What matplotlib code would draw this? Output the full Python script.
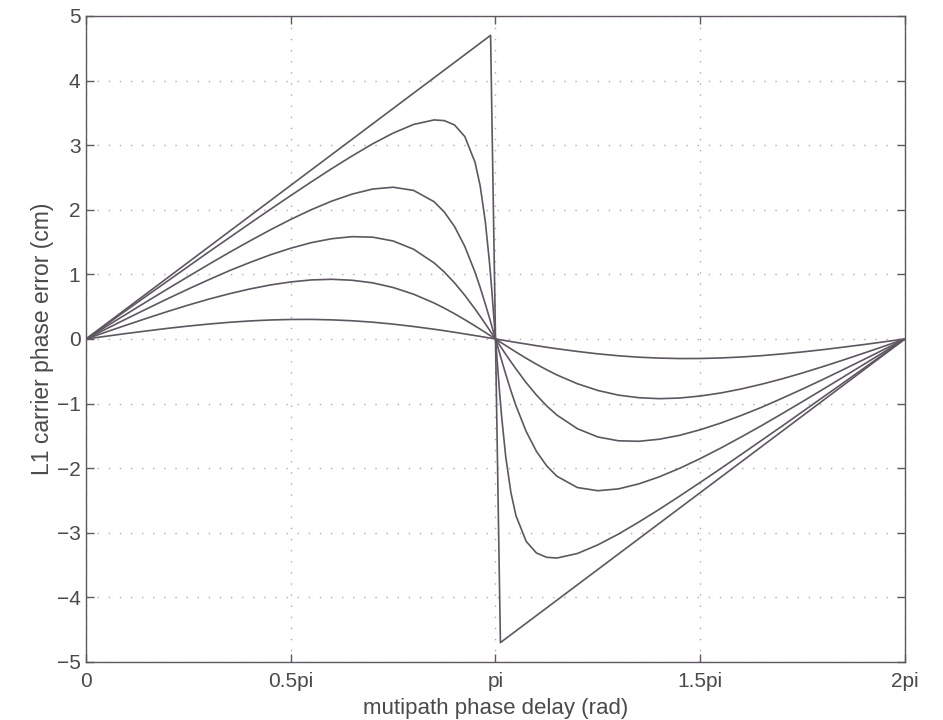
import matplotlib
matplotlib.use("Agg")
import matplotlib.pyplot as plt

# phase delay in units of pi
x = [0, 0.05, 0.1, 0.15, 0.2, 0.25, 0.3, 0.35, 0.4, 0.45, 0.5, 0.55, 0.6, 0.65,
     0.7, 0.75, 0.8, 0.85, 0.875, 0.9, 0.925, 0.95, 0.9625, 0.975, 0.985, 0.99, 1.0,
     1.01, 1.015, 1.025, 1.0375, 1.05, 1.075, 1.1, 1.125, 1.15, 1.2, 1.25, 1.3,
     1.35, 1.4, 1.45, 1.5, 1.55, 1.6, 1.65, 1.7, 1.75, 1.8, 1.85, 1.9, 1.95, 2.0]

err_a01 = [0, 0.043, 0.086, 0.126, 0.165, 0.200, 0.231, 0.258, 0.279, 0.294, 0.302,
           0.303, 0.296, 0.282, 0.260, 0.230, 0.193, 0.151, 0.128, 0.104, 0.078,
           0.053, 0.040, 0.026, 0.016, 0.011, 0,
           -0.011, -0.016, -0.026, -0.040, -0.053, -0.078, -0.104, -0.128, -0.151,
           -0.193, -0.230, -0.260, -0.282, -0.296, -0.303, -0.302, -0.294, -0.279,
           -0.258, -0.231, -0.200, -0.165, -0.126, -0.086, -0.043, 0]
err_a03 = [0, 0.110, 0.218, 0.324, 0.427, 0.525, 0.617, 0.700, 0.774, 0.836, 0.883,
           0.914, 0.924, 0.909, 0.869, 0.797, 0.693, 0.557, 0.477, 0.391, 0.299,
           0.202, 0.152, 0.102, 0.061, 0.041, 0,
           -0.041, -0.061, -0.102, -0.152, -0.202, -0.299, -0.391, -0.477, -0.557,
           -0.693, -0.797, -0.869, -0.909, -0.924, -0.914, -0.883, -0.836, -0.774,
           -0.700, -0.617, -0.525, -0.427, -0.324, -0.218, -0.110, 0]
err_a05 = [0, 0.158, 0.316, 0.472, 0.625, 0.774, 0.918, 1.057, 1.184, 1.302, 1.405,
           1.491, 1.552, 1.584, 1.576, 1.517, 1.389, 1.178, 1.036, 0.868, 0.677,
           0.464, 0.352, 0.237, 0.142, 0.095, 0,
           -0.095, -0.142, -0.237, -0.352, -0.464, -0.677, -0.868, -1.036, -1.178,
           -1.389, -1.517, -1.576, -1.584, -1.552, -1.491, -1.405, -1.302, -1.184,
           -1.057, -0.918, -0.774, -0.625, -0.472, -0.316, -0.158, 0]
err_a07 = [0, 0.196, 0.391, 0.586, 0.778, 0.968, 1.156, 1.340, 1.517, 1.689, 1.851,
           2.001, 2.134, 2.243, 2.321, 2.349, 2.300, 2.125, 1.965, 1.740, 1.433,
           1.033, 0.799, 0.545, 0.331, 0.221, 0,
           -0.221, -0.331, -0.545, -0.799, -1.033, -1.433, -1.740, -1.965, -2.125,
           -2.300, -2.349, -2.321, -2.243, -2.134, -2.001, -1.851, -1.689, -1.517,
           -1.340, -1.156, -0.968, -0.778, -0.586, -0.391, -0.196, 0]
err_a09 = [0, 0.225, 0.451, 0.676, 0.900, 1.124, 1.348, 1.568, 1.788, 2.006, 2.220,
           2.431, 2.637, 2.834, 3.021, 3.187, 3.321, 3.391, 3.380, 3.313, 3.134,
           2.736, 2.373, 1.824, 1.204, 0.831, 0,
           -0.831, -1.204, -1.824, -2.373, -2.736, -3.134, -3.313, -3.380, -3.391,
           -3.321, -3.187, -3.021, -2.834, -2.637, -2.431, -2.220, -2.006, -1.788,
           -1.568, -1.348, -1.124, -0.900, -0.676, -0.451, -0.225, 0]

# alpha = 1 curve, sawtooth
x_a10 = [0, 0.988, 1.012, 2.0]
err_a10 = [0, 4.70, -4.70, 0]

xtick_vals = [0, 0.5, 1, 1.5, 2]
xtick_labels = ['0', '0.5pi', 'pi', '1.5pi', '2pi']

plt.rcParams['font.family'] = ['Liberation Sans', 'DejaVu Sans']
ink = '#5e5660'
txt = '#4a4a4a'

fig = plt.figure(figsize=(9.43, 7.2), dpi=100)
ax = fig.add_axes([0.0912, 0.0806, 0.8685, 0.8972])

for err in [err_a01, err_a03, err_a05, err_a07, err_a09]:
    ax.plot(x, err, color=ink, lw=1.2)
ax.plot(x_a10, err_a10, color=ink, lw=1.2)

ax.set_xlim(0, 2)
ax.set_ylim(-5, 5)
ax.set_xticks(xtick_vals)
ax.set_xticklabels(xtick_labels)
ax.set_yticks(range(-5, 6))
ax.set_yticklabels([str(v).replace('-', '\u2212') for v in range(-5, 6)])
ax.tick_params(direction='in', length=6, colors=ink, labelcolor=txt,
               labelsize=15, width=1.0)
ax.tick_params(axis='x', pad=7)
ax.tick_params(axis='y', pad=4)
ax.tick_params(top=True, right=True)
ax.grid(True, color='#b0a8ae', linestyle=(0, (1, 7)), lw=1.0)
for s in ax.spines.values():
    s.set_color(ink)
    s.set_linewidth(1.0)

ax.set_xlabel('mutipath phase delay (rad)', fontsize=16, color=txt, labelpad=5)
ax.set_ylabel('L1 carrier phase error (cm)', fontsize=16.5, color=txt, labelpad=2)

fig.savefig('out.png', dpi=100)
